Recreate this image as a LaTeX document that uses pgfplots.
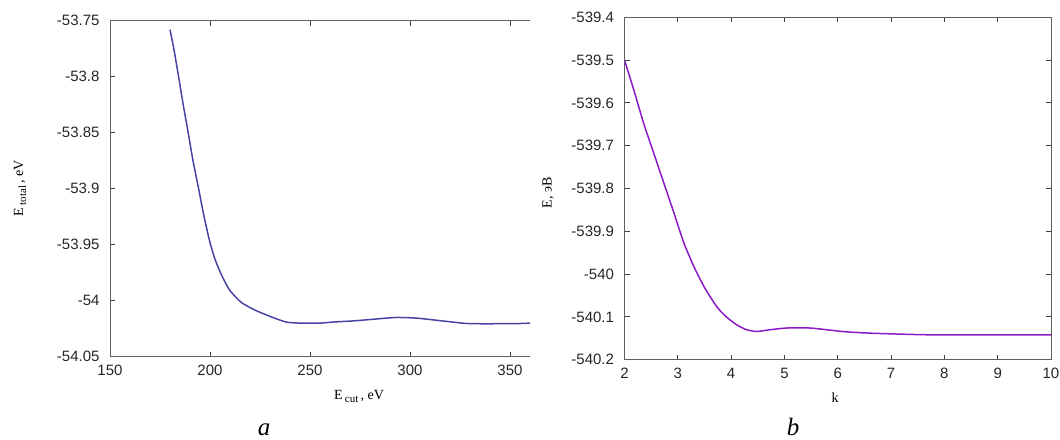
\documentclass[border=0pt]{standalone}
\usepackage{fontspec}
\setmainfont{Liberation Serif}
\setsansfont{Liberation Sans}
\usepackage{pgfplots}
\pgfplotsset{compat=1.18}

\definecolor{curvea}{RGB}{72,68,165}
\definecolor{curveb}{RGB}{140,25,200}
\definecolor{frame}{RGB}{95,95,95}

\pgfplotsset{
  gp/.style={
    scale only axis,
    tick align=inside,
    major tick length=5pt,
    axis line style={frame, line width=1pt},
    tick style={black!75, line width=0.8pt},
    ticklabel style={font=\sffamily\fontsize{15}{15}\selectfont, text=black!85},
    yticklabel style={xshift=-7pt},
    xticklabel style={yshift=-5pt},
  }
}

\begin{document}
\begin{tikzpicture}
\useasboundingbox (0,0) rectangle (1060pt,439pt);

% panel a
\begin{axis}[gp,
    at={(110pt,82.3pt)}, anchor=south west,
    width=420pt, height=336pt,
    axis x line*=box, axis y line*=left,
    xmin=150, xmax=360, ymin=-54.05, ymax=-53.75,
    xtick={150,200,250,300,350},
    xticklabels={150,200,250,300,350},
    ytick={-54.05,-54,-53.95,-53.9,-53.85,-53.8,-53.75},
    yticklabels={-54.05,-54,-53.95,-53.9,-53.85,-53.8,-53.75},
  ]
  \addplot[curvea, line width=1.5pt, smooth, tension=0.4] coordinates {
    (180,-53.758)(182,-53.776)(184.3,-53.800)(186.7,-53.826)(189.1,-53.850)
    (191.5,-53.875)(194.2,-53.899)(196.7,-53.922)(199.7,-53.946)(202.3,-53.962)
    (205,-53.974)(207.4,-53.983)(210,-53.991)(213,-53.997)(216,-54.002)
    (222,-54.008)(230,-54.014)(238,-54.019)(245,-54.020)(255,-54.020)
    (262,-54.019)(272,-54.018)(282,-54.0165)(293,-54.015)(303,-54.0155)
    (311,-54.017)(321,-54.019)(330,-54.0205)(352,-54.0205)(360,-54.020)
  };
\end{axis}

% panel b
\begin{axis}[gp,
    at={(624.5pt,79.3pt)}, anchor=south west,
    width=426.5pt, height=342.4pt,
    xmin=2, xmax=10, ymin=-540.2, ymax=-539.4,
    xtick={2,3,4,5,6,7,8,9,10},
    xticklabels={2,3,4,5,6,7,8,9,10},
    ytick={-540.2,-540.1,-540,-539.9,-539.8,-539.7,-539.6,-539.5,-539.4},
    yticklabels={-540.2,-540.1,-540,-539.9,-539.8,-539.7,-539.6,-539.5,-539.4},
  ]
  \addplot[curveb, line width=1.5pt, smooth, tension=0.4] coordinates {
    (2,-539.5)(2.175,-539.570)(2.36,-539.648)(2.55,-539.718)(2.74,-539.788)
    (2.93,-539.858)(3.11,-539.926)(3.3,-539.982)(3.49,-540.029)(3.68,-540.067)
    (3.79,-540.085)(3.93,-540.102)(4.1,-540.118)(4.29,-540.130)(4.48,-540.134)
    (4.73,-540.130)(5.04,-540.126)(5.48,-540.126)(5.86,-540.131)(6.17,-540.135)
    (6.61,-540.138)(7.11,-540.140)(7.86,-540.142)(10,-540.142)
  };
\end{axis}

% axis labels and captions
\node[anchor=base, font=\fontsize{14}{14}\selectfont] at (359pt,39pt)
  {E\,\raisebox{-3pt}{\fontsize{11}{11}\selectfont cut}\,, eV};
\node[rotate=90, font=\fontsize{14}{14}\selectfont] at (20pt,251pt)
  {E\,\raisebox{-3pt}{\fontsize{11}{11}\selectfont total}\,, eV};
\node[anchor=base, font=\fontsize{14}{14}\selectfont] at (835pt,36pt) {k};
\node[rotate=90, font=\fontsize{14}{14}\selectfont] at (548pt,246pt) {E, эВ};
\node[anchor=base, font=\itshape\fontsize{25}{25}\selectfont] at (264pt,4pt) {a};
\node[anchor=base, font=\itshape\fontsize{25}{25}\selectfont] at (793pt,4pt) {b};
\end{tikzpicture}
\end{document}
